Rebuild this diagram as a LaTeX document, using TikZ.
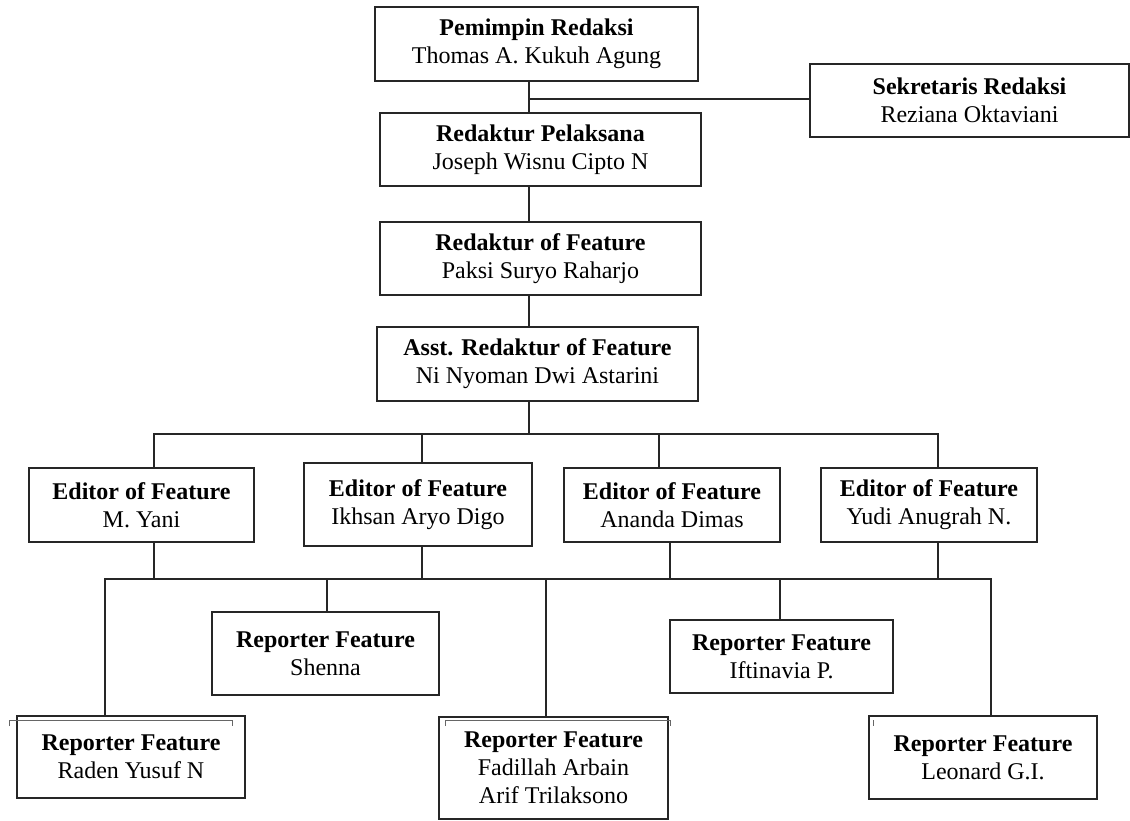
\documentclass[tikz,border=0pt]{standalone}
\usepackage{fontspec}
\setmainfont{Liberation Serif}
\begin{document}
\begin{tikzpicture}[x=1pt,y=-1pt,
  orgbox/.style={draw=black!85, line width=1.4pt, rectangle, align=center, inner sep=0pt,
    font=\fontsize{24}{28}\selectfont},
  conn/.style={draw=black!85, line width=1.3pt},
  artifact/.style={draw=black!60, line width=0.8pt}]
\useasboundingbox (0,0) rectangle (1130,820);
% top column
\node[orgbox, minimum width=323pt, minimum height=74pt] (pem) at (536.5,44) {\textbf{Pemimpin Redaksi}\\Thomas A. Kukuh Agung};
\node[orgbox, minimum width=319pt, minimum height=73pt] (sek) at (969.5,100.5) {\textbf{Sekretaris Redaksi}\\Reziana Oktaviani};
\node[orgbox, minimum width=321pt, minimum height=73pt] (pel) at (540.5,149.5) {\textbf{Redaktur Pelaksana}\\Joseph Wisnu Cipto N};
\node[orgbox, minimum width=321pt, minimum height=73pt] (rof) at (540.5,258.5) {\textbf{Redaktur of Feature}\\Paksi Suryo Raharjo};
\node[orgbox, minimum width=321pt, minimum height=74pt] (asst) at (537.5,364) {\textbf{Asst. Redaktur of Feature}\\Ni Nyoman Dwi Astarini};
% editors
\node[orgbox, minimum width=225pt, minimum height=74pt] (yani) at (141.5,505) {\textbf{Editor of Feature}\\M. Yani};
\node[orgbox, minimum width=228pt, minimum height=83pt] (ikhsan) at (418,504.5) {\textbf{Editor of Feature}\\Ikhsan Aryo Digo};
\node[orgbox, minimum width=216pt, minimum height=74pt] (ananda) at (672,505) {\textbf{Editor of Feature}\\Ananda Dimas};
\node[orgbox, minimum width=216pt, minimum height=74pt] (yudi) at (929,505) {\textbf{Editor of Feature}\\Yudi Anugrah N.};
% reporters
\node[orgbox, minimum width=227pt, minimum height=83pt] (shenna) at (325.5,653.5) {\textbf{Reporter Feature}\\Shenna};
\node[orgbox, minimum width=223pt, minimum height=73pt] (ifti) at (781.5,656.5) {\textbf{Reporter Feature}\\Iftinavia P.};
\node[orgbox, minimum width=228pt, minimum height=82pt] (raden) at (131,757) {\textbf{Reporter Feature}\\Raden Yusuf N};
\node[orgbox, minimum width=229pt, minimum height=102pt] (fadillah) at (553.5,768) {\textbf{Reporter Feature}\\Fadillah Arbain\\Arif Trilaksono};
\node[orgbox, minimum width=228pt, minimum height=83pt] (leonard) at (983,757.5) {\textbf{Reporter Feature}\\Leonard G.I.};
% bus coordinates
\coordinate (ca) at (529,99);
\coordinate (b1) at (529,434);
\coordinate (e1) at (154,434);
\coordinate (e2) at (422,434);
\coordinate (e3) at (659,434);
\coordinate (e4) at (938,434);
\coordinate (f1) at (154,579);
\coordinate (f2) at (422,579);
\coordinate (f3) at (670,579);
\coordinate (f4) at (938,579);
\coordinate (r1) at (105,579);
\coordinate (r2) at (327,579);
\coordinate (r3) at (546,579);
\coordinate (r4) at (780,579);
\coordinate (r5) at (991,579);
% connectors
\draw[conn] (ca |- pem.south) -- (ca |- pel.north);
\draw[conn] (ca) -- (ca -| sek.west);
\draw[conn] (ca |- pel.south) -- (ca |- rof.north);
\draw[conn] (ca |- rof.south) -- (ca |- asst.north);
\draw[conn] (b1 |- asst.south) -- (b1);
\draw[conn] (e1 |- yani.north) -- (e1) -- (e4) -- (e4 |- yudi.north);
\draw[conn] (e2) -- (e2 |- ikhsan.north);
\draw[conn] (e3) -- (e3 |- ananda.north);
\draw[conn] (f1 |- yani.south) -- (f1);
\draw[conn] (f2 |- ikhsan.south) -- (f2);
\draw[conn] (f3 |- ananda.south) -- (f3);
\draw[conn] (f4 |- yudi.south) -- (f4);
\draw[conn] (r1 |- raden.north) -- (r1) -- (r5) -- (r5 |- leonard.north);
\draw[conn] (r2) -- (r2 |- shenna.north);
\draw[conn] (r3) -- (r3 |- fadillah.north);
\draw[conn] (r4) -- (r4 |- ifti.north);
% faint frame remnants above some reporter boxes
\draw[artifact] (9,726) -- (9,720) -- (232,720) -- (232,726);
\draw[artifact] (445,726) -- (445,720) -- (670,720) -- (670,726);
\draw[artifact] (873,720) -- (873,726);
\end{tikzpicture}
\end{document}
